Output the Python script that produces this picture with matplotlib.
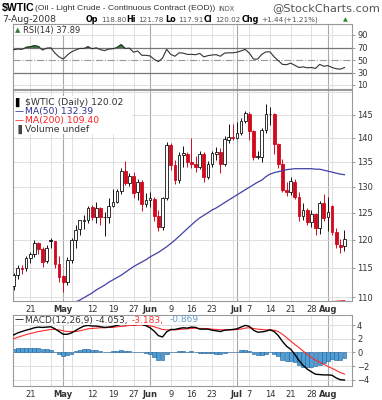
import numpy as np
import pandas as pd
import matplotlib
matplotlib.use("Agg")
import matplotlib.pyplot as plt
from matplotlib.patches import Rectangle
from matplotlib.ticker import FixedLocator, FuncFormatter, NullLocator

# ---- data ----
dates = ['2008-04-15', '2008-04-16', '2008-04-17', '2008-04-18',
         '2008-04-21', '2008-04-22', '2008-04-23', '2008-04-24', '2008-04-25',
         '2008-04-28', '2008-04-29', '2008-04-30', '2008-05-01', '2008-05-02',
         '2008-05-05', '2008-05-06', '2008-05-07', '2008-05-08', '2008-05-09',
         '2008-05-12', '2008-05-13', '2008-05-14', '2008-05-15', '2008-05-16',
         '2008-05-19', '2008-05-20', '2008-05-21', '2008-05-22', '2008-05-23',
         '2008-05-27', '2008-05-28', '2008-05-29', '2008-05-30',
         '2008-06-02', '2008-06-03', '2008-06-04', '2008-06-05', '2008-06-06',
         '2008-06-09', '2008-06-10', '2008-06-11', '2008-06-12', '2008-06-13',
         '2008-06-16', '2008-06-17', '2008-06-18', '2008-06-19', '2008-06-20',
         '2008-06-23', '2008-06-24', '2008-06-25', '2008-06-26', '2008-06-27',
         '2008-06-30', '2008-07-01', '2008-07-02', '2008-07-03',
         '2008-07-07', '2008-07-08', '2008-07-09', '2008-07-10', '2008-07-11',
         '2008-07-14', '2008-07-15', '2008-07-16', '2008-07-17', '2008-07-18',
         '2008-07-21', '2008-07-22', '2008-07-23', '2008-07-24', '2008-07-25',
         '2008-07-28', '2008-07-29', '2008-07-30', '2008-07-31', '2008-08-01',
         '2008-08-04', '2008-08-05', '2008-08-06', '2008-08-07']

opens = [111.90, 113.80, 114.90, 114.90,
         116.70, 117.50, 119.30, 118.30, 116.10,
         119.90, 119.70, 115.60, 113.50, 112.50,
         116.40, 119.90, 121.90, 123.50, 123.70,
         126.00, 124.20, 125.80, 124.20, 124.10,
         126.30, 127.10, 129.10, 133.20, 130.80,
         132.20, 128.90, 131.00, 126.60,
         127.40, 127.70, 124.30, 122.30, 127.80,
         138.50, 134.30, 131.30, 136.40, 136.70,
         134.90, 134.60, 134.00, 136.70, 131.90,
         134.60, 136.70, 137.00, 134.60, 139.60,
         140.20, 140.00, 141.00, 143.60,
         145.20, 141.40, 136.00, 136.00, 141.70,
         145.10, 145.20, 138.70, 134.60, 129.30,
         128.90, 131.00, 128.00, 124.40, 125.50,
         123.30, 124.70, 122.20, 126.80, 124.10,
         126.20, 121.40, 119.10, 118.80]

highs = [114.04, 115.54, 115.40, 117.00,
         117.83, 119.90, 119.50, 118.70, 119.00,
         120.30, 119.75, 117.10, 113.80, 116.80,
         120.36, 122.73, 123.69, 124.61, 126.20,
         126.40, 126.98, 126.00, 125.10, 127.82,
         129.60, 129.60, 133.82, 135.09, 132.70,
         133.00, 131.60, 131.40, 128.80,
         129.00, 128.00, 125.50, 128.00, 139.12,
         138.80, 135.30, 137.00, 138.30, 137.00,
         139.89, 136.20, 137.20, 137.00, 135.20,
         137.30, 138.00, 137.80, 140.39, 142.99,
         143.00, 143.33, 144.32, 145.85,
         145.50, 141.70, 137.30, 142.00, 147.27,
         146.73, 145.40, 139.00, 135.60, 130.90,
         132.00, 131.60, 129.00, 126.80, 125.90,
         125.50, 125.00, 127.20, 128.50, 128.00,
         126.50, 122.20, 120.20, 121.78]

lows = [111.25, 113.00, 113.90, 114.40,
        115.83, 116.85, 117.50, 115.10, 115.80,
        118.40, 114.90, 112.50, 110.80, 112.00,
        115.80, 118.50, 120.80, 122.00, 123.00,
        123.60, 123.10, 122.60, 120.60, 123.00,
        126.00, 126.80, 128.60, 130.40, 130.10,
        127.80, 127.40, 125.30, 126.00,
        126.00, 123.50, 121.60, 121.80, 127.50,
        133.30, 130.60, 130.80, 134.00, 133.90,
        133.70, 133.00, 133.50, 131.00, 131.50,
        133.90, 135.40, 132.80, 134.20, 138.80,
        139.60, 139.80, 140.50, 143.20,
        139.60, 135.40, 135.50, 135.00, 141.00,
        142.70, 136.50, 133.75, 129.00, 128.20,
        128.30, 127.60, 123.50, 123.60, 122.60,
        122.30, 120.80, 121.10, 123.40, 121.50,
        120.80, 118.50, 117.60, 117.91]

closes = [113.79, 114.93, 114.86, 116.69,
          117.48, 119.37, 118.30, 116.06, 118.52,
          119.75, 115.63, 113.46, 112.52, 116.32,
          119.97, 121.84, 123.53, 123.69, 125.96,
          124.23, 125.80, 124.12, 124.12, 126.29,
          127.05, 129.07, 133.17, 130.81, 132.19,
          128.85, 131.03, 126.62, 127.35,
          127.76, 124.31, 122.30, 127.79, 138.54,
          134.35, 131.31, 136.38, 136.74, 134.86,
          134.61, 134.01, 136.68, 131.93, 134.62,
          136.74, 137.00, 134.55, 139.64, 140.21,
          140.00, 140.97, 143.57, 145.29,
          141.37, 136.04, 136.05, 141.65, 145.08,
          145.18, 138.74, 134.60, 129.29, 128.88,
          131.04, 127.95, 124.44, 125.49, 123.26,
          124.73, 122.19, 126.77, 124.08, 125.10,
          121.41, 119.17, 118.58, 120.02]
close_before_first = 111.76

ma50 = [np.nan] * 14 + [
    108.9, 109.2, 109.5, 109.9, 110.3, 110.7, 111.2, 111.6, 112.0, 112.5,
    112.9, 113.3, 113.7, 114.2, 114.7, 115.2, 115.6, 116.0, 116.4, 116.9,
    117.3, 117.7, 118.2, 118.7, 119.3, 119.9, 120.6, 121.3, 122.0, 122.7,
    123.4, 124.0, 124.5, 125.0, 125.5, 125.9, 126.4, 126.9, 127.4, 127.9,
    128.4, 128.9, 129.4, 129.9, 130.4, 130.9, 131.3, 132.0, 132.5, 132.8,
    133.0, 133.2, 133.4, 133.5, 133.6, 133.6, 133.6, 133.6, 133.6, 133.5,
    133.5, 133.3, 133.1, 132.9, 132.7, 132.5, 132.39]
ma200 = [np.nan] * 74 + [109.10, 109.15, 109.20, 109.25, 109.30, 109.35, 109.40]

rsi = [66.5, 67.5, 67.0, 70.0,
       71.0, 73.0, 71.5, 66.0, 69.0,
       69.5, 61.0, 55.0, 51.5, 58.0,
       63.0, 66.0, 68.5, 68.5, 71.0,
       68.0, 69.5, 66.5, 65.0, 67.5,
       68.0, 70.0, 74.5, 68.5, 69.0,
       62.5, 64.5, 57.5, 57.5,
       56.5, 51.0, 47.5, 53.0, 67.0,
       59.0, 56.0, 61.5, 61.0, 59.0,
       59.0, 58.5, 60.5, 55.0, 57.0,
       58.0, 58.5, 56.0, 61.0, 61.5,
       61.5, 62.5, 64.5, 67.0,
       61.0, 51.5, 51.5, 59.0, 63.0,
       63.0, 55.0, 49.0, 43.0, 42.5,
       45.0, 41.5, 38.0, 39.0, 37.5,
       38.0, 36.5, 43.0, 40.0, 41.0,
       38.0, 36.0, 35.3, 37.89]

macd = [2.55, 2.85, 3.05, 3.25,
        3.40, 3.60, 3.70, 3.65, 3.70,
        3.75, 3.45, 3.05, 2.65, 2.65,
        2.85, 3.20, 3.55, 3.85, 3.95,
        3.85, 3.85, 3.75, 3.65, 3.70,
        3.80, 3.95, 4.10, 4.05, 4.20,
        4.05, 4.10, 4.10, 3.90,
        3.60, 3.10, 2.45, 2.25, 3.00,
        3.35, 3.35, 3.50, 3.60, 3.55,
        3.70, 3.65, 3.40, 3.40, 3.40,
        3.25, 3.15, 3.05, 3.25, 3.30,
        3.35, 3.45, 3.70, 3.95,
        3.80, 3.25, 2.95, 3.00, 3.10,
        3.30, 3.05, 2.45, 1.60, 0.90,
        0.45, -0.30, -1.20, -1.90, -2.45,
        -2.85, -3.20, -3.25, -3.30, -3.30,
        -3.35, -3.75, -4.00, -4.053]

signal = [2.00, 2.20, 2.40, 2.60,
          2.75, 2.90, 3.05, 3.15, 3.25,
          3.35, 3.35, 3.30, 3.15, 3.05,
          3.05, 3.05, 3.15, 3.30, 3.45,
          3.50, 3.55, 3.60, 3.60, 3.65,
          3.65, 3.75, 3.80, 3.85, 3.95,
          3.95, 4.00, 4.00, 3.95,
          3.90, 3.75, 3.55, 3.35, 3.30,
          3.30, 3.30, 3.35, 3.40, 3.45,
          3.50, 3.55, 3.50, 3.50, 3.45,
          3.40, 3.35, 3.30, 3.30, 3.30,
          3.30, 3.35, 3.40, 3.55,
          3.60, 3.50, 3.40, 3.35, 3.30,
          3.30, 3.25, 3.05, 2.65, 2.15,
          1.65, 1.15, 0.70, 0.20, -0.30,
          -0.75, -1.15, -1.45, -1.75, -2.05,
          -2.35, -2.65, -2.95, -3.183]

label_dates = ['2008-04-21', '2008-05-01', '2008-05-12', '2008-05-19', '2008-05-27',
               '2008-06-02', '2008-06-09', '2008-06-16', '2008-06-23', '2008-07-01',
               '2008-07-07', '2008-07-14', '2008-07-21', '2008-07-28', '2008-08-01']
label_texts = ['21', 'May', '12', '19', '27', 'Jun', '9', '16', '23', 'Jul',
               '7', '14', '21', '28', 'Aug']
month_names = ['May', 'Jun', 'Jul', 'Aug']

price_ticks = [110, 115, 120, 125, 130, 135, 140, 145]
price_grid = price_ticks + [150]
rsi_ticks = [10, 30, 50, 70, 90]
macd_ticks = [-4, -2, 0, 2, 4]

# ---- styling ----
W, H = 382, 400
RED = '#d10a1e'
BLACK = '#111111'
GRID = '#dadada'
MONTH = '#a8a8a8'
SPINE = '#999999'
TXT = '#333333'
ARIAL = 'Liberation Sans'

fig = plt.figure(figsize=(W / 100, H / 100), dpi=100)


def panel(top, bottom, left=13, right=351.5):
    return fig.add_axes([left / W, 1 - bottom / H, (right - left) / W, (bottom - top) / H])


def ftext(x, y, s, **kw):
    kw.setdefault('va', 'center')
    return fig.text(x / W, 1 - y / H, s, **kw)


def white_box(x0, y0, x1, y1):
    fig.patches.append(Rectangle((x0 / W, 1 - y1 / H), (x1 - x0) / W, (y1 - y0) / H,
                                 transform=fig.transFigure, facecolor='white',
                                 edgecolor='none', zorder=1))


ax_rsi = panel(24, 89)
ax_p = panel(90, 301)
ax_m = panel(315, 385.5)

n = len(dates)
xs = np.arange(n)
d = pd.to_datetime(dates)
pos = {s: i for i, s in enumerate(dates)}

week_first = pd.Series(xs, index=d).groupby(d.to_period('W')).min().values[1:]
month_first = pd.Series(xs, index=d).groupby(d.to_period('M')).min().values[1:]

for ax in (ax_rsi, ax_p, ax_m):
    ax.set_xlim(-0.15, 81.7)
    for w in week_first:
        ax.axvline(w, color=GRID, lw=0.6, zorder=0)
    for m in month_first:
        ax.axvline(m, color=MONTH, lw=0.8, zorder=0)
    for s in ax.spines.values():
        s.set_color(SPINE)
        s.set_linewidth(0.8)
    ax.yaxis.tick_right()
    ax.tick_params(axis='y', length=2.5, width=0.6, color='#888888',
                   labelsize=6, labelcolor=TXT, pad=1.5)
    ax.tick_params(axis='x', length=0, labelsize=6, labelcolor=TXT, pad=3)
    ax.set_xticks([pos[s] for s in label_dates])
    ax.set_xticklabels(label_texts)
    for lbl in ax.get_xticklabels():
        if lbl.get_text() in month_names:
            lbl.set_fontweight('bold')
ax_rsi.set_xticklabels([])

# ---- RSI ----
r = np.array(rsi)
ax_rsi.set_ylim(3.6, 107.6)
ax_rsi.set_yticks(rsi_ticks)
for v in rsi_ticks:
    if v in (30, 70):
        ax_rsi.axhline(v, color='#777777', lw=0.9, zorder=1)
    elif v == 50:
        ax_rsi.axhline(v, color='#999999', lw=0.8, ls='-.', zorder=1)
    else:
        ax_rsi.axhline(v, color=GRID, lw=0.6, zorder=0)
ax_rsi.fill_between(xs, r, 70, where=r > 70, interpolate=True, color='#3d7a3d', zorder=2)
ax_rsi.plot(xs, r, color='#333333', lw=0.8, zorder=3)

# ---- price ----
o, hi, lo, c = map(np.array, (opens, highs, lows, closes))
prev = np.concatenate([[close_before_first], c[:-1]])
cols = np.where(c < prev, RED, BLACK)
ax_p.set_yscale('log')
ax_p.set_ylim(109.35, 150.5)
ax_p.yaxis.set_major_locator(FixedLocator(price_ticks))
ax_p.yaxis.set_major_formatter(FuncFormatter(lambda v, p: f'{v:.0f}'))
ax_p.yaxis.set_minor_locator(NullLocator())
for v in price_grid:
    ax_p.axhline(v, color=GRID, lw=0.6, zorder=0)
ax_p.vlines(xs, lo, hi, colors=cols, lw=0.7, zorder=2)
for i in range(n):
    b0, b1 = min(o[i], c[i]), max(o[i], c[i])
    if b1 - b0 < 0.1:
        b1 = b0 + 0.1
    fc = 'white' if c[i] >= o[i] else cols[i]
    ax_p.add_patch(Rectangle((xs[i] - 0.33, b0), 0.66, b1 - b0, facecolor=fc,
                             edgecolor=cols[i], lw=0.6, zorder=3))
ax_p.plot(xs, ma50, color='#4040a8', lw=0.9, zorder=4)
ax_p.plot(xs, ma200, color='#ff2020', lw=0.9, zorder=4)

# ---- MACD ----
mc, sg = np.array(macd), np.array(signal)
hist = mc - sg
ax_m.set_ylim(-4.85, 5.47)
ax_m.set_yticks(macd_ticks)
for v in macd_ticks:
    ax_m.axhline(v, color=GRID, lw=0.6, zorder=0)
ax_m.bar(xs, hist, width=0.95, color='#4f9fd6', edgecolor='#1d5c96', lw=0.4, zorder=2)
ax_m.plot(xs, sg, color='#ff2a2a', lw=0.8, zorder=3)
ax_m.plot(xs, mc, color='black', lw=1.0, zorder=4)

# ---- header ----
ftext(2, 8, '$WTIC', fontsize=7.6, fontweight='bold', family=ARIAL, color='black')
ftext(35, 8.5, '(Oil - Light Crude - Continuous Contract (EOD))', fontsize=6.1,
      family=ARIAL, color=TXT)
ftext(218, 9, 'INDX', fontsize=4.8, color='#555555')
ftext(380, 8.5, '@StockCharts.com', fontsize=8.2, color='#555555', ha='right')

ftext(2, 19.5, '7-Aug-2008', fontsize=6.7, color=TXT)
for x, s, bold in [(86, 'Op', True), (101, '118.80', False), (126, 'Hi', True),
                   (138, '121.78', False), (165, 'Lo', True), (178, '117.91', False),
                   (204, 'Cl', True), (215, '120.02', False), (242, 'Chg', True),
                   (261, '+1.44', False), (283, '(+1.21%)', False)]:
    ftext(x, 19.5, s, fontsize=5.8 if bold else 5.2,
          fontweight='bold' if bold else 'normal',
          color='black' if bold else '#555555')
ftext(343, 19.5, '\u25b2', fontsize=4.5, color='#2a8a2a')

# ---- panel labels ----
white_box(14, 25.5, 86, 34.5)
ftext(15, 30, '\u25b2', fontsize=5, color='#3d7a3d', zorder=2)
ftext(23, 30, 'RSI(14) 37.89', fontsize=6, color=TXT, zorder=2)

white_box(14, 96, 132, 134)
ftext(15, 102.5, '\u258c', fontsize=6.5, color='black', zorder=2)
ftext(25, 102.5, '$WTIC (Daily) 120.02', fontsize=6.7, color=TXT, zorder=2)
ftext(15, 111.5, '\u2014', fontsize=6.5, color='#303090', zorder=2)
ftext(25, 111.5, 'MA(50) 132.39', fontsize=6.7, color='#303090', zorder=2)
ftext(15, 120.5, '\u2014', fontsize=6.5, color='#ff2020', zorder=2)
ftext(25, 120.5, 'MA(200) 109.40', fontsize=6.7, color='#ff2020', zorder=2)
ftext(15, 129.5, '\u2590', fontsize=6.5, color='#444444', zorder=2)
ftext(25, 129.5, 'Volume undef', fontsize=6.7, color=TXT, zorder=2)

white_box(14, 315.8, 206, 324.8)
ftext(15, 320, '\u2014', fontsize=6.5, color='black', zorder=2)
ftext(25, 320, 'MACD(12,26,9) -4.053,', fontsize=6.5, color=TXT, zorder=2)
ftext(132, 320, '-3.183,', fontsize=6.5, color='#ff3030', zorder=2)
ftext(170, 320, '-0.869', fontsize=6.5, color='#6699cc', zorder=2)

fig.savefig('out.png', dpi=100, facecolor='white')
